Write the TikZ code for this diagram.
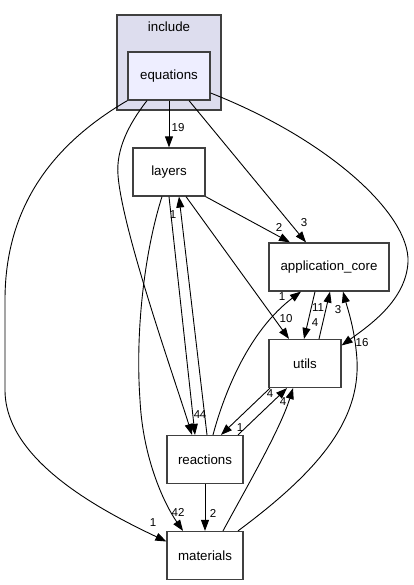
\documentclass[tikz,border=0pt]{standalone}
\usepackage{fontspec}
\setmainfont{Liberation Sans}
\usetikzlibrary{arrows.meta}
\definecolor{clusterfill}{HTML}{DDDDEE}
\definecolor{dirfill}{HTML}{EEEEFF}
\definecolor{dirline}{HTML}{404040}

\begin{document}
\begin{tikzpicture}[x=1pt, y=-1pt,
		dirnode/.style={draw=dirline, line width=1.2pt, fill=white, inner sep=0pt,
			minimum height=48pt, font=\fontsize{13.3}{15}\selectfont},
		dep/.style={line width=0.9pt, -{Triangle[length=11pt,width=8pt]}},
		lbl/.style={inner sep=0pt, font=\fontsize{11.5}{13}\selectfont}]
			%%%%% START %%%%%
			\useasboundingbox (0, 0) rectangle (414, 585);
			
			\node[draw=dirline, line width=1.2pt, fill=clusterfill, minimum width=104pt, minimum height=95pt, inner sep=0pt] (include) at (169, 62.5) {};
			\node[font=\fontsize{13.3}{15}\selectfont] (include-label) at (169, 27) {include};
			\node[dirnode, fill=dirfill, minimum width=82pt] (equations) at (169, 76) {equations};
			
			\node[dirnode, minimum width=72pt] (layers) at (169, 172) {layers};
			\node[dirnode, minimum width=120pt] (application_core) at (329, 267) {application\_core};
			\node[dirnode, minimum width=72pt] (utils) at (305, 363.5) {utils};
			\node[dirnode, minimum width=76pt] (reactions) at (205, 459.5) {reactions};
			\node[dirnode, minimum width=76pt] (materials) at (205, 555.5) {materials};
			
			% from equations
			\draw[dep] (equations.south) -- (layers.north);
			\node[lbl] (l-eq-lay) at (178, 128) {19};
			\draw[dep] ([xshift=20]equations.south) -- ([xshift=-23]application_core.north);
			\node[lbl] (l-eq-app) at (304, 223) {3};
			\draw[dep] ([yshift=-17]equations.east) .. controls (330, 140) and (410, 215) .. (408, 262)
				.. controls (406, 300) and (370, 325) .. ([yshift=18]utils.east);
			\node[lbl] (l-eq-uti) at (362, 343) {16};
			\draw[dep] ([xshift=-22]equations.south) .. controls (128, 125) and (116, 150) .. (118, 175)
				.. controls (122, 230) and (175, 380) .. ([xshift=-13]reactions.north);
			\node[lbl] (l-eq-rea) at (197, 415) {4};
			\draw[dep] (equations.south west) .. controls (60, 140) and (5, 200) .. (5, 300) -- (5, 390)
				.. controls (5, 460) and (100, 510) .. ([yshift=14]materials.west);
			\node[lbl] (l-eq-mat) at (153, 523) {1};
			
			% from layers
			\draw[dep] (layers.south east) -- ([xshift=-39]application_core.north);
			\node[lbl] (l-lay-app) at (279, 227) {2};
			\draw[dep] ([xshift=17]layers.south) -- ([xshift=-16]utils.north);
			\node[lbl] (l-lay-uti) at (286, 319) {10};
			\draw[dep] (layers.south) -- ([xshift=-10]reactions.north);
			\node[lbl] (l-lay-rea) at (203, 415) {4};
			\draw[dep] ([xshift=-7]layers.south) .. controls (145, 250) and (135, 330) .. (140, 400)
				.. controls (143, 460) and (165, 505) .. ([xshift=-22]materials.north);
			\node[lbl] (l-lay-mat) at (178, 512) {42};
			
			% application_core <-> utils
			\draw[dep] ([xshift=-14]application_core.south) -- ([xshift=-1]utils.north);
			\node[lbl] (l-app-uti) at (315, 323) {4};
			\draw[dep] ([xshift=14]utils.north) -- ([xshift=1]application_core.south);
			\node[lbl] (l-uti-app) at (318, 308) {11};
			
			% from reactions
			\draw[dep] ([xshift=2]reactions.north) -- ([xshift=10]layers.south);
			\node[lbl] (l-rea-lay) at (173, 215) {1};
			\draw[dep] ([xshift=8]reactions.north) .. controls (225, 390) and (250, 330) .. ([xshift=-28]application_core.south);
			\node[lbl] (l-rea-app) at (282, 297) {1};
			\draw[dep] ([xshift=33]reactions.north) -- ([xshift=-18]utils.south);
			\node[lbl] (l-rea-uti) at (270, 394) {4};
			\draw[dep] ([xshift=-35]utils.south) -- ([xshift=16]reactions.north);
			\node[lbl] (l-uti-rea) at (240, 428) {1};
			\draw[dep] (reactions.south) -- (materials.north);
			\node[lbl] (l-rea-mat) at (213, 513) {2};
			
			% from materials
			\draw[dep] ([xshift=18]materials.north) .. controls (245, 490) and (280, 430) .. ([xshift=-12]utils.south);
			\node[lbl] (l-mat-uti) at (283, 402) {4};
			\draw[dep] ([xshift=33]materials.north) .. controls (320, 470) and (360, 420) .. (357, 360)
				.. controls (355, 330) and (348, 310) .. ([xshift=14]application_core.south);
			\node[lbl] (l-mat-app) at (338, 310) {3};
			%%%%% END %%%%%
		\end{tikzpicture}
\end{document}
